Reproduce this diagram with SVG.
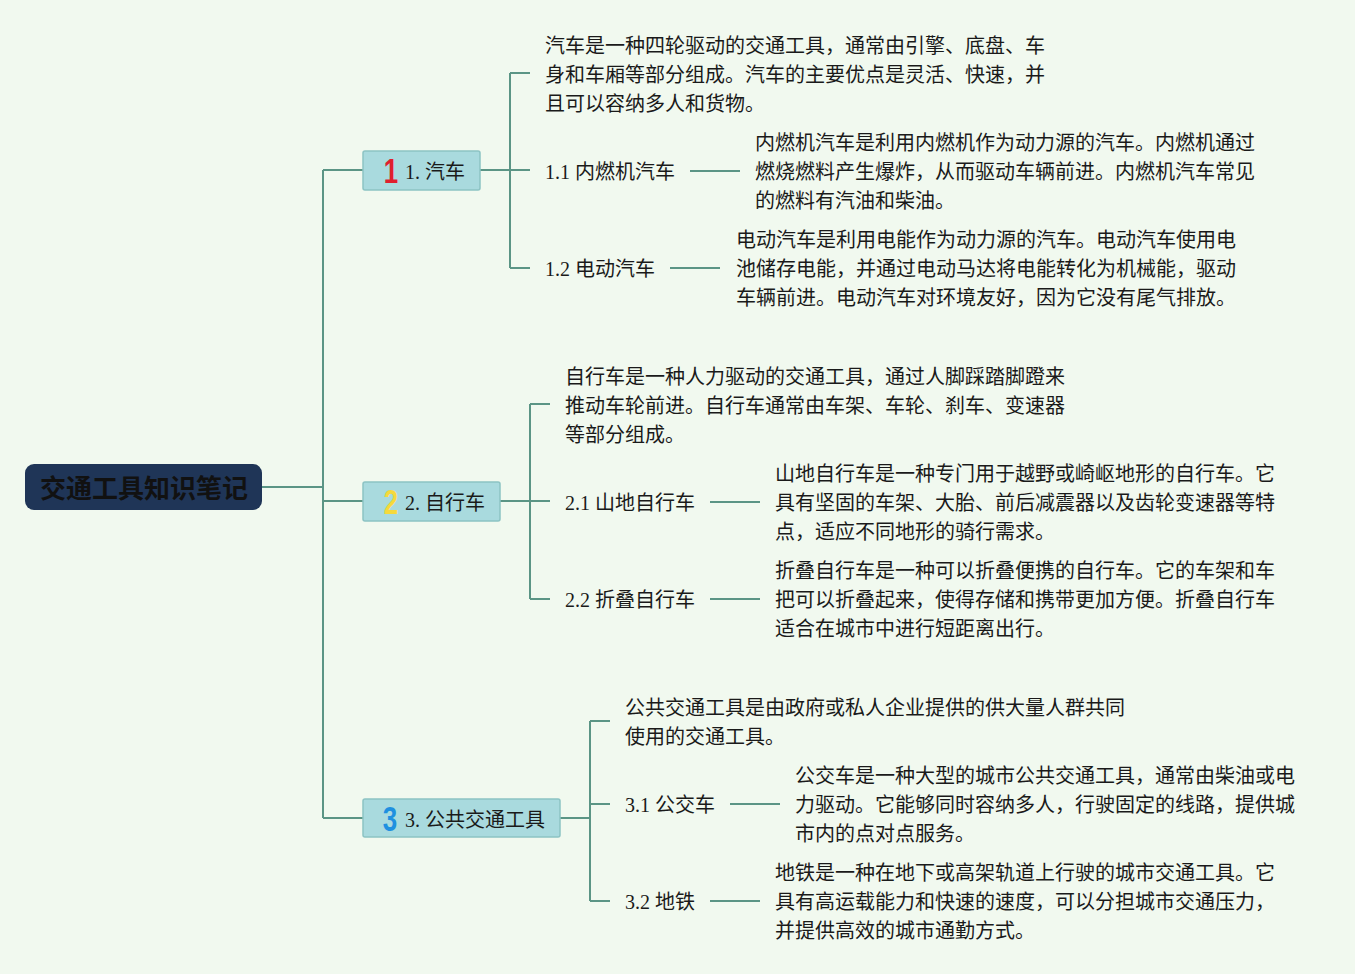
<svg xmlns="http://www.w3.org/2000/svg" width="1355" height="974" viewBox="0 0 1355 974">
<style>
.bg{fill:#f1f9ef}
.ln{fill:none;stroke:#5b9585;stroke-width:2}
.box{fill:#a9dade;stroke:#8cc3c4;stroke-width:1.5}
.t{font-family:"Liberation Serif","Noto Sans CJK SC",serif;font-size:20px;fill:#1a1a1a}
.num{font-family:"Liberation Sans","Noto Sans",sans-serif;font-size:36px;font-weight:bold;text-anchor:middle}
.root{font-family:"Noto Sans CJK SC","Noto Sans",sans-serif;font-size:26px;font-weight:bold;fill:#111;text-anchor:middle}
</style>
<rect class="bg" x="0" y="0" width="1355" height="974"/>
<g id="connectors">
<path class="ln" d="M262,487 H323 M323,170 V818 M323,170 H363 M323,501 H363 M323,818 H363"/>
<path class="ln" d="M480,170 H510 M510,73 V268 M510,73 H530 M510,170 H530 M510,268 H530"/>
<path class="ln" d="M690,171 H740 M670,268 H720"/>
<path class="ln" d="M500,501 H530 M530,404 V599 M530,404 H550 M530,501 H550 M530,599 H550"/>
<path class="ln" d="M710,502 H760 M710,599 H760"/>
<path class="ln" d="M560,818 H590 M590,721 V901 M590,721 H610 M590,804 H610 M590,901 H610"/>
<path class="ln" d="M730,804 H780 M710,901 H760"/>
</g>
<g id="root">
<rect x="25" y="464" width="237" height="46" rx="9" fill="#1f3557"/>
<text class="root" x="144" y="498">交通工具知识笔记</text>
</g>
<g id="n1">
<rect class="box" x="363" y="151" width="117" height="39" rx="2"/>
<text class="num" x="391" y="183" fill="#e01f2e" transform="translate(391,0) scale(0.72,1) translate(-391,0)">1</text>
<text class="t" x="405" y="179">1. 汽车</text>
</g>
<g id="n1-desc">
<text class="t" x="545" y="53">汽车是一种四轮驱动的交通工具，通常由引擎、底盘、车</text>
<text class="t" x="545" y="82">身和车厢等部分组成。汽车的主要优点是灵活、快速，并</text>
<text class="t" x="545" y="111">且可以容纳多人和货物。</text>
</g>
<g id="n1-1">
<text class="t" x="545" y="179">1.1 内燃机汽车</text>
</g>
<g id="n1-1-desc">
<text class="t" x="755" y="150">内燃机汽车是利用内燃机作为动力源的汽车。内燃机通过</text>
<text class="t" x="755" y="179">燃烧燃料产生爆炸，从而驱动车辆前进。内燃机汽车常见</text>
<text class="t" x="755" y="208">的燃料有汽油和柴油。</text>
</g>
<g id="n1-2">
<text class="t" x="545" y="276">1.2 电动汽车</text>
</g>
<g id="n1-2-desc">
<text class="t" x="736" y="247">电动汽车是利用电能作为动力源的汽车。电动汽车使用电</text>
<text class="t" x="736" y="276">池储存电能，并通过电动马达将电能转化为机械能，驱动</text>
<text class="t" x="736" y="305">车辆前进。电动汽车对环境友好，因为它没有尾气排放。</text>
</g>
<g id="n2">
<rect class="box" x="363" y="482" width="137" height="39" rx="2"/>
<text class="num" x="391" y="514" fill="#f5d93c" transform="translate(391,0) scale(0.72,1) translate(-391,0)">2</text>
<text class="t" x="405" y="510">2. 自行车</text>
</g>
<g id="n2-desc">
<text class="t" x="565" y="384">自行车是一种人力驱动的交通工具，通过人脚踩踏脚蹬来</text>
<text class="t" x="565" y="413">推动车轮前进。自行车通常由车架、车轮、刹车、变速器</text>
<text class="t" x="565" y="442">等部分组成。</text>
</g>
<g id="n2-1">
<text class="t" x="565" y="510">2.1 山地自行车</text>
</g>
<g id="n2-1-desc">
<text class="t" x="775" y="481">山地自行车是一种专门用于越野或崎岖地形的自行车。它</text>
<text class="t" x="775" y="510">具有坚固的车架、大胎、前后减震器以及齿轮变速器等特</text>
<text class="t" x="775" y="539">点，适应不同地形的骑行需求。</text>
</g>
<g id="n2-2">
<text class="t" x="565" y="607">2.2 折叠自行车</text>
</g>
<g id="n2-2-desc">
<text class="t" x="775" y="578">折叠自行车是一种可以折叠便携的自行车。它的车架和车</text>
<text class="t" x="775" y="607">把可以折叠起来，使得存储和携带更加方便。折叠自行车</text>
<text class="t" x="775" y="636">适合在城市中进行短距离出行。</text>
</g>
<g id="n3">
<rect class="box" x="363" y="799" width="197" height="38" rx="2"/>
<text class="num" x="390" y="831" fill="#1f90e0" transform="translate(390,0) scale(0.72,1) translate(-390,0)">3</text>
<text class="t" x="405" y="827">3. 公共交通工具</text>
</g>
<g id="n3-desc">
<text class="t" x="625" y="715">公共交通工具是由政府或私人企业提供的供大量人群共同</text>
<text class="t" x="625" y="744">使用的交通工具。</text>
</g>
<g id="n3-1">
<text class="t" x="625" y="812">3.1 公交车</text>
</g>
<g id="n3-1-desc">
<text class="t" x="795" y="783">公交车是一种大型的城市公共交通工具，通常由柴油或电</text>
<text class="t" x="795" y="812">力驱动。它能够同时容纳多人，行驶固定的线路，提供城</text>
<text class="t" x="795" y="841">市内的点对点服务。</text>
</g>
<g id="n3-2">
<text class="t" x="625" y="909">3.2 地铁</text>
</g>
<g id="n3-2-desc">
<text class="t" x="775" y="880">地铁是一种在地下或高架轨道上行驶的城市交通工具。它</text>
<text class="t" x="775" y="909">具有高运载能力和快速的速度，可以分担城市交通压力，</text>
<text class="t" x="775" y="938">并提供高效的城市通勤方式。</text>
</g>
</svg>
